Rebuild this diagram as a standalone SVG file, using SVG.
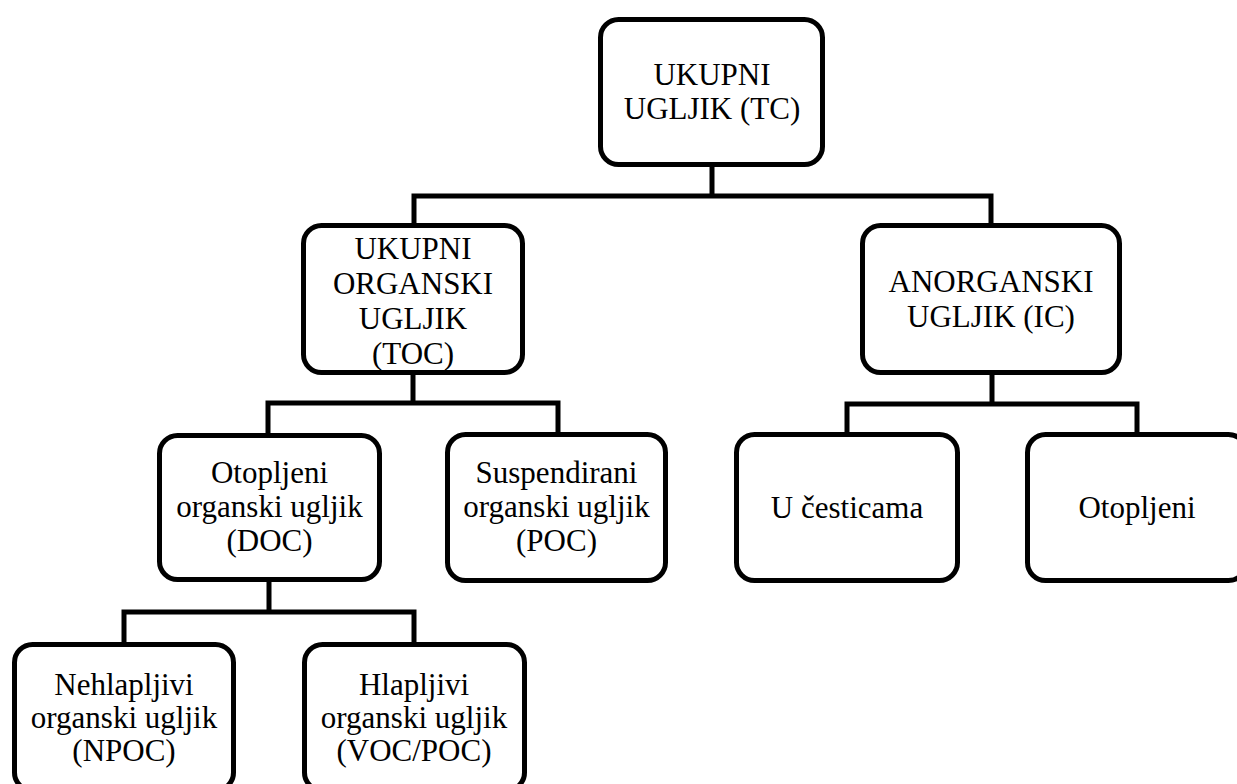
<svg xmlns="http://www.w3.org/2000/svg" width="1237" height="784" viewBox="0 0 1237 784">
<style>
.box{fill:#fff;stroke:#000;stroke-width:5}
.con{fill:none;stroke:#000;stroke-width:5;stroke-linejoin:miter}
.t{font-family:'Liberation Serif',Tinos,'Times New Roman','DejaVu Serif',serif;font-size:31px;fill:#000;text-anchor:middle}
</style>
<rect width="1237" height="784" fill="#fff"/>
<g id="connectors">
<path class="con" d="M712 167V196M414 223V196H991V223"/>
<path class="con" d="M413 375V403M268 433V403H558V433"/>
<path class="con" d="M992 375V404M847 432V404H1137V432"/>
<path class="con" d="M269 582V612M124 642V612H414V642"/>
</g>
<g id="tc">
<rect class="box" x="600.5" y="19.5" width="222" height="145" rx="18"/>
<text class="t" x="712" y="85">UKUPNI</text>
<text class="t" x="712" y="119">UGLJIK (TC)</text>
</g>
<g id="toc">
<rect class="box" x="303.5" y="225.5" width="219" height="147" rx="18"/>
<text class="t" x="413" y="259">UKUPNI</text>
<text class="t" x="413" y="294">ORGANSKI</text>
<text class="t" x="413" y="329">UGLJIK</text>
<text class="t" x="413" y="364">(TOC)</text>
</g>
<g id="ic">
<rect class="box" x="862.5" y="225.5" width="257" height="147" rx="18"/>
<text class="t" x="991" y="292">ANORGANSKI</text>
<text class="t" x="991" y="327">UGLJIK (IC)</text>
</g>
<g id="doc">
<rect class="box" x="159.5" y="435.5" width="220" height="144" rx="18"/>
<text class="t" x="269.5" y="483">Otopljeni</text>
<text class="t" x="269.5" y="517">organski ugljik</text>
<text class="t" x="269.5" y="551">(DOC)</text>
</g>
<g id="poc">
<rect class="box" x="447.5" y="434.5" width="218" height="146" rx="18"/>
<text class="t" x="556.5" y="483">Suspendirani</text>
<text class="t" x="556.5" y="517">organski ugljik</text>
<text class="t" x="556.5" y="551">(POC)</text>
</g>
<g id="uc">
<rect class="box" x="736.5" y="434.5" width="221" height="146" rx="18"/>
<text class="t" x="847" y="518">U česticama</text>
</g>
<g id="ot">
<rect class="box" x="1027.5" y="434.5" width="219" height="146" rx="18"/>
<text class="t" x="1137" y="518">Otopljeni</text>
</g>
<g id="npoc">
<rect class="box" x="14.5" y="644.5" width="219" height="146" rx="18"/>
<text class="t" x="124" y="695">Nehlapljivi</text>
<text class="t" x="124" y="728">organski ugljik</text>
<text class="t" x="124" y="761">(NPOC)</text>
</g>
<g id="voc">
<rect class="box" x="304.5" y="644.5" width="220" height="146" rx="18"/>
<text class="t" x="414" y="695">Hlapljivi</text>
<text class="t" x="414" y="728">organski ugljik</text>
<text class="t" x="414" y="761">(VOC/POC)</text>
</g>
</svg>
